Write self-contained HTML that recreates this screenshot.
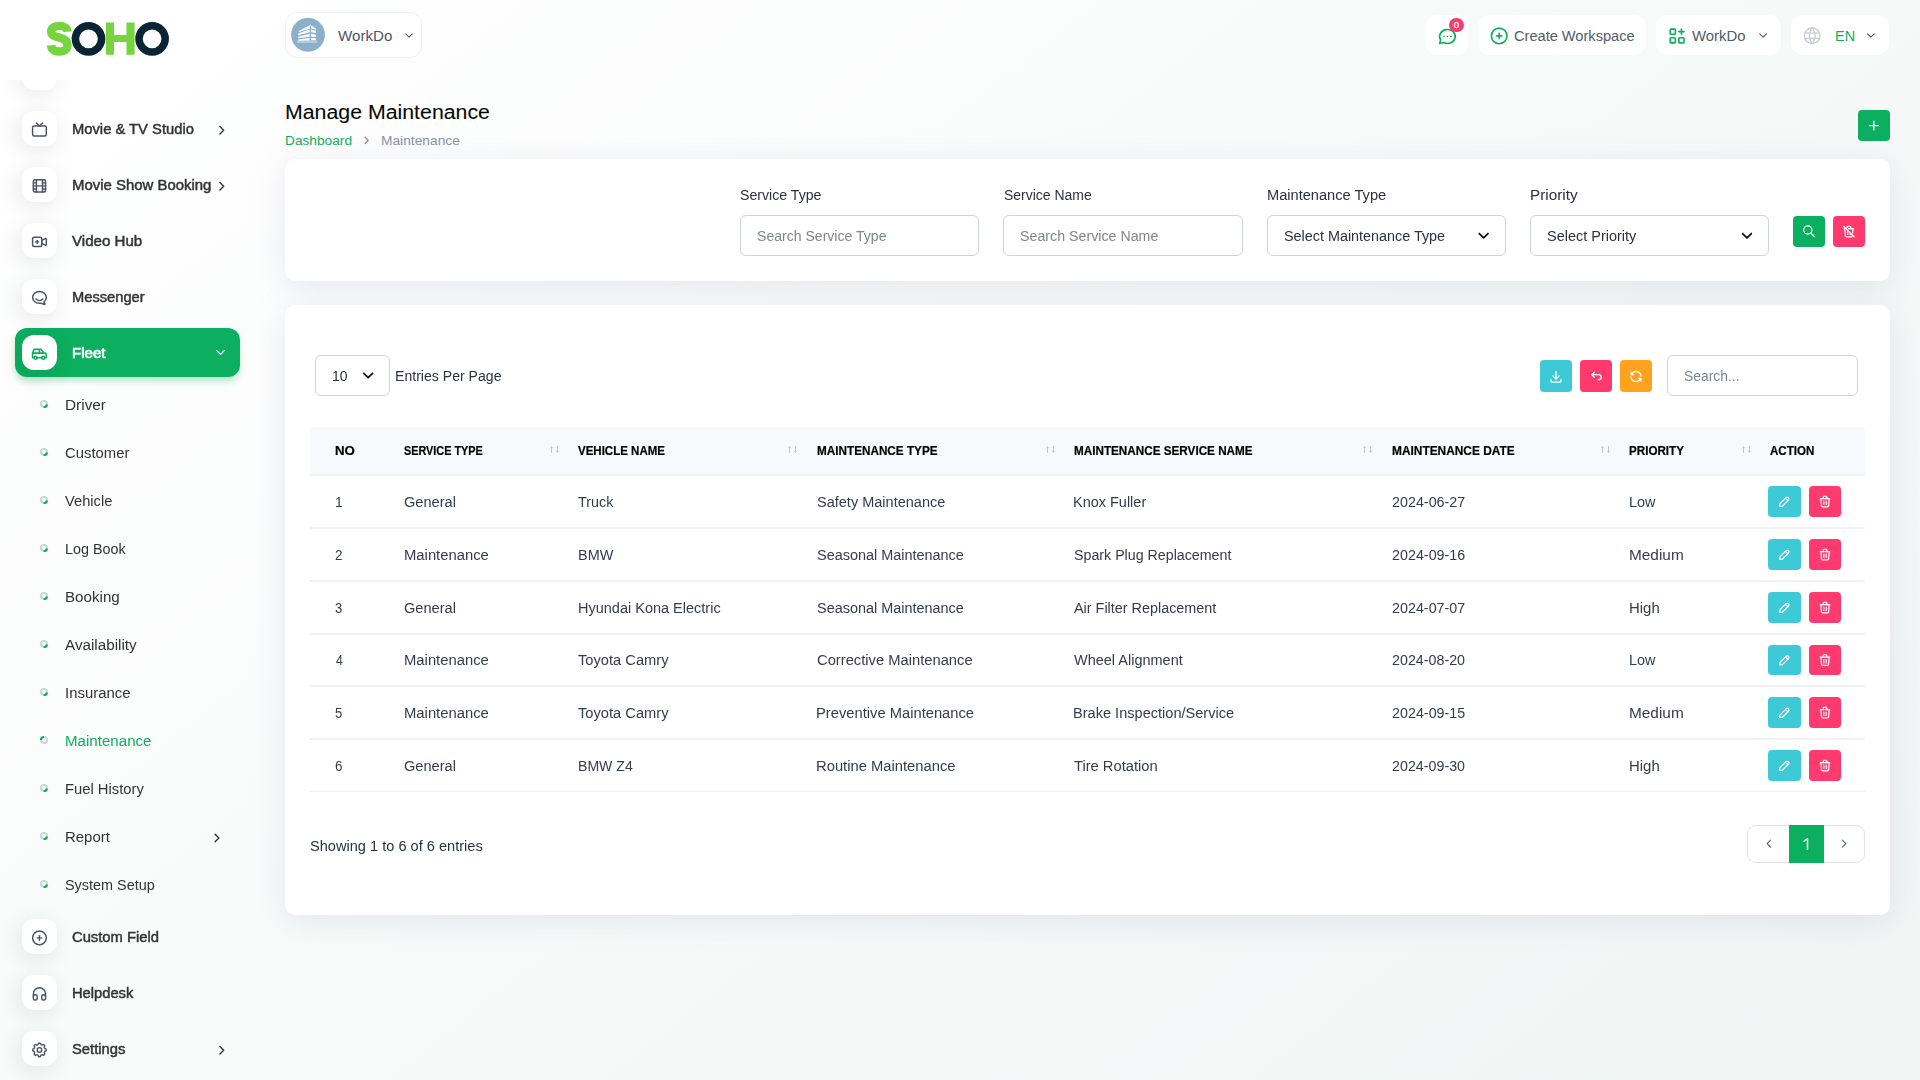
<!DOCTYPE html>
<html lang="en"><head><meta charset="utf-8"><title>Manage Maintenance</title>
<style>
html,body{margin:0;padding:0}
body{width:1920px;height:1080px;overflow:hidden;position:relative;font-family:"Liberation Sans",sans-serif;
background:linear-gradient(141.55deg,rgba(240,244,243,0) 3.46%,#f0f4f3 99.86%),#fff}
.b,.i,.t,.bul{position:absolute}
.i{overflow:visible}
.t{white-space:nowrap;line-height:20px;height:20px;transform-origin:0 50%;display:block}
.sb{position:absolute;left:0;top:0;width:282px;height:1080px;will-change:transform}
.sbscroll{position:absolute;left:0;top:80px;width:280px;height:40px;overflow:hidden}
.bul{width:8.4px;height:8.4px;box-sizing:border-box;border:1.9px solid #cdd1dc;border-radius:50%;border-right-color:#0CAF60;transform:rotate(50deg)}
.bul.act{transform:rotate(-130deg)}
</style></head>
<body>
<div class="sb">
<div class="sbscroll">
<div class="b" style="left:22.00px;top:-25.00px;width:35.00px;height:35.00px;background:#fff;border-radius:12px;box-shadow:-3px 4px 23px rgba(0,0,0,.1)"></div>
</div>
<div class="b" style="left:22.00px;top:111.30px;width:34.80px;height:34.60px;background:#fff;border-radius:12px;box-shadow:-3px 4px 23px rgba(0,0,0,.1)"></div>
<svg class="i" style="left:29px;top:119px;width:22px;height:22px;" viewBox="-1.705 -2.295 28.852 28.852" fill="none" stroke="#4a5364" stroke-width="1.9" stroke-linecap="round" stroke-linejoin="round"><rect x="3" y="7" width="18" height="13" rx="2"/><polyline points="16 3 12 7 8 3"/></svg>
<span class="t" style="left:71.70px;top:119.00px;font-size:14px;color:#333;height:20px;line-height:20px;-webkit-text-stroke:.45px #333;transform:scaleX(1.0536);">Movie &amp; TV Studio</span>
<svg class="i" style="left:213px;top:121px;width:18px;height:18px;" viewBox="-2.080 -2.720 28.800 28.800" fill="none" stroke="#3a3a3a" stroke-width="2.3" stroke-linecap="round" stroke-linejoin="round"><polyline points="9 6 15 12 9 18"/></svg>
<div class="b" style="left:22.00px;top:167.30px;width:34.80px;height:34.60px;background:#fff;border-radius:12px;box-shadow:-3px 4px 23px rgba(0,0,0,.1)"></div>
<svg class="i" style="left:29px;top:175px;width:22px;height:22px;" viewBox="-1.705 -2.295 28.852 28.852" fill="none" stroke="#4a5364" stroke-width="1.9" stroke-linecap="round" stroke-linejoin="round"><rect x="4" y="4" width="16" height="16" rx="2"/><line x1="8" y1="4" x2="8" y2="20"/><line x1="16" y1="4" x2="16" y2="20"/><line x1="4" y1="8" x2="8" y2="8"/><line x1="4" y1="16" x2="8" y2="16"/><line x1="4" y1="12" x2="20" y2="12"/><line x1="16" y1="8" x2="20" y2="8"/><line x1="16" y1="16" x2="20" y2="16"/></svg>
<span class="t" style="left:71.68px;top:175.00px;font-size:14px;color:#333;height:20px;line-height:20px;-webkit-text-stroke:.45px #333;transform:scaleX(1.0663);">Movie Show Booking</span>
<svg class="i" style="left:213px;top:177px;width:18px;height:18px;" viewBox="-2.080 -2.720 28.800 28.800" fill="none" stroke="#3a3a3a" stroke-width="2.3" stroke-linecap="round" stroke-linejoin="round"><polyline points="9 6 15 12 9 18"/></svg>
<div class="b" style="left:22.00px;top:223.30px;width:34.80px;height:34.60px;background:#fff;border-radius:12px;box-shadow:-3px 4px 23px rgba(0,0,0,.1)"></div>
<svg class="i" style="left:29px;top:231px;width:22px;height:22px;" viewBox="-1.705 -2.295 28.852 28.852" fill="none" stroke="#4a5364" stroke-width="1.9" stroke-linecap="round" stroke-linejoin="round"><path d="M15 10l4.553 -2.276a1 1 0 0 1 1.447 .894v6.764a1 1 0 0 1 -1.447 .894l-4.553 -2.276v-4z"/><rect x="3" y="6" width="12" height="12" rx="2"/><line x1="7" y1="12" x2="11" y2="12"/><line x1="9" y1="10" x2="9" y2="14"/></svg>
<span class="t" style="left:72.05px;top:231.00px;font-size:14px;color:#333;height:20px;line-height:20px;-webkit-text-stroke:.45px #333;transform:scaleX(1.0781);">Video Hub</span>
<div class="b" style="left:22.00px;top:279.30px;width:34.80px;height:34.60px;background:#fff;border-radius:12px;box-shadow:-3px 4px 23px rgba(0,0,0,.1)"></div>
<svg class="i" style="left:29px;top:287px;width:22px;height:22px;" viewBox="-1.705 -2.295 28.852 28.852" fill="none" stroke="#4a5364" stroke-width="1.9" stroke-linecap="round" stroke-linejoin="round"><path d="M17.802 17.292s.077 -.055 .2 -.149c1.843 -1.425 3 -3.49 3 -5.789c0 -4.286 -4.03 -7.764 -9 -7.764c-4.97 0 -9 3.478 -9 7.764c0 4.288 4.03 7.646 9 7.646c.424 0 1.12 -.028 2.088 -.084c1.262 .82 3.104 1.493 4.716 1.493c.499 0 .734 -.41 .414 -.828c-.486 -.596 -1.156 -1.551 -1.416 -2.29z"/><path d="M7.5 13.5c2.5 2.5 6.5 2.5 9 0"/></svg>
<span class="t" style="left:71.70px;top:287.00px;font-size:14px;color:#333;height:20px;line-height:20px;-webkit-text-stroke:.45px #333;transform:scaleX(1.0486);">Messenger</span>
<div class="b" style="left:15.00px;top:328.00px;width:225.00px;height:49.00px;background:#0CAF60;border-radius:12px;box-shadow:0 5px 7px -1px rgba(12,175,96,.3)"></div>
<div class="b" style="left:22.00px;top:335.30px;width:34.80px;height:34.60px;background:#fff;border-radius:12px;box-shadow:-3px 4px 23px rgba(0,0,0,.1)"></div>
<svg class="i" style="left:29px;top:343px;width:22px;height:22px;" viewBox="-1.705 -2.295 28.852 28.852" fill="none" stroke="#0CAF60" stroke-width="2.1" stroke-linecap="round" stroke-linejoin="round"><circle cx="7" cy="17" r="2"/><circle cx="17" cy="17" r="2"/><path d="M5 17h-2v-6l2 -5h9l4 5h1a2 2 0 0 1 2 2v4h-2m-4 0h-6m-6 -6h15m-6 0v-5"/></svg>
<span class="t" style="left:71.67px;top:343.00px;font-size:14px;color:#fff;height:20px;line-height:20px;-webkit-text-stroke:.65px #fff;transform:scaleX(1.0772);">Fleet</span>
<svg class="i" style="left:212px;top:344px;width:18px;height:18px;" viewBox="-1.600 -1.600 28.800 28.800" fill="none" stroke="#fff" stroke-width="2.2" stroke-linecap="round" stroke-linejoin="round"><polyline points="6 9 12 15 18 9"/></svg>
<svg class="i" style="left:39px;top:399.00px;width:10px;height:10px" viewBox="-5 -5 10 10" fill="none" stroke-width="2.1"><circle r="3" stroke="#ced3de"/><path d="M2.95 .5A3 3 0 0 1 -.3 2.98" stroke="#0CAF60"/></svg>
<span class="t" style="left:64.50px;top:395.00px;font-size:14px;color:#333;height:20px;line-height:20px;transform:scaleX(1.0976);">Driver</span>
<svg class="i" style="left:39px;top:447.00px;width:10px;height:10px" viewBox="-5 -5 10 10" fill="none" stroke-width="2.1"><circle r="3" stroke="#ced3de"/><path d="M2.95 .5A3 3 0 0 1 -.3 2.98" stroke="#0CAF60"/></svg>
<span class="t" style="left:65.00px;top:443.00px;font-size:14px;color:#333;height:20px;line-height:20px;transform:scaleX(1.0624);">Customer</span>
<svg class="i" style="left:39px;top:495.00px;width:10px;height:10px" viewBox="-5 -5 10 10" fill="none" stroke-width="2.1"><circle r="3" stroke="#ced3de"/><path d="M2.95 .5A3 3 0 0 1 -.3 2.98" stroke="#0CAF60"/></svg>
<span class="t" style="left:65.25px;top:491.00px;font-size:14px;color:#333;height:20px;line-height:20px;transform:scaleX(1.0476);">Vehicle</span>
<svg class="i" style="left:39px;top:543.00px;width:10px;height:10px" viewBox="-5 -5 10 10" fill="none" stroke-width="2.1"><circle r="3" stroke="#ced3de"/><path d="M2.95 .5A3 3 0 0 1 -.3 2.98" stroke="#0CAF60"/></svg>
<span class="t" style="left:64.58px;top:539.00px;font-size:14px;color:#333;height:20px;line-height:20px;transform:scaleX(1.0243);">Log Book</span>
<svg class="i" style="left:39px;top:591.00px;width:10px;height:10px" viewBox="-5 -5 10 10" fill="none" stroke-width="2.1"><circle r="3" stroke="#ced3de"/><path d="M2.95 .5A3 3 0 0 1 -.3 2.98" stroke="#0CAF60"/></svg>
<span class="t" style="left:64.52px;top:587.00px;font-size:14px;color:#333;height:20px;line-height:20px;transform:scaleX(1.0818);">Booking</span>
<svg class="i" style="left:39px;top:639.00px;width:10px;height:10px" viewBox="-5 -5 10 10" fill="none" stroke-width="2.1"><circle r="3" stroke="#ced3de"/><path d="M2.95 .5A3 3 0 0 1 -.3 2.98" stroke="#0CAF60"/></svg>
<span class="t" style="left:65.25px;top:635.00px;font-size:14px;color:#333;height:20px;line-height:20px;transform:scaleX(1.0883);">Availability</span>
<svg class="i" style="left:39px;top:687.00px;width:10px;height:10px" viewBox="-5 -5 10 10" fill="none" stroke-width="2.1"><circle r="3" stroke="#ced3de"/><path d="M2.95 .5A3 3 0 0 1 -.3 2.98" stroke="#0CAF60"/></svg>
<span class="t" style="left:64.54px;top:683.00px;font-size:14px;color:#333;height:20px;line-height:20px;transform:scaleX(1.0648);">Insurance</span>
<svg class="i" style="left:39px;top:735.00px;width:10px;height:10px" viewBox="-5 -5 10 10" fill="none" stroke-width="2.1"><circle r="3" stroke="#ced3de"/><path d="M-3 0A3 3 0 0 1 0 -3" stroke="#0CAF60"/></svg>
<span class="t" style="left:64.52px;top:731.00px;font-size:14px;color:#0CAF60;height:20px;line-height:20px;transform:scaleX(1.0789);">Maintenance</span>
<svg class="i" style="left:39px;top:783.00px;width:10px;height:10px" viewBox="-5 -5 10 10" fill="none" stroke-width="2.1"><circle r="3" stroke="#ced3de"/><path d="M2.95 .5A3 3 0 0 1 -.3 2.98" stroke="#0CAF60"/></svg>
<span class="t" style="left:64.55px;top:779.00px;font-size:14px;color:#333;height:20px;line-height:20px;transform:scaleX(1.0559);">Fuel History</span>
<svg class="i" style="left:39px;top:831.00px;width:10px;height:10px" viewBox="-5 -5 10 10" fill="none" stroke-width="2.1"><circle r="3" stroke="#ced3de"/><path d="M2.95 .5A3 3 0 0 1 -.3 2.98" stroke="#0CAF60"/></svg>
<span class="t" style="left:64.53px;top:827.00px;font-size:14px;color:#333;height:20px;line-height:20px;transform:scaleX(1.0665);">Report</span>
<svg class="i" style="left:39px;top:879.00px;width:10px;height:10px" viewBox="-5 -5 10 10" fill="none" stroke-width="2.1"><circle r="3" stroke="#ced3de"/><path d="M2.95 .5A3 3 0 0 1 -.3 2.98" stroke="#0CAF60"/></svg>
<span class="t" style="left:65.25px;top:875.00px;font-size:14px;color:#333;height:20px;line-height:20px;transform:scaleX(1.0296);">System Setup</span>
<svg class="i" style="left:208px;top:829px;width:18px;height:18px;" viewBox="-2.400 -2.400 28.800 28.800" fill="none" stroke="#333" stroke-width="2.2" stroke-linecap="round" stroke-linejoin="round"><polyline points="9 6 15 12 9 18"/></svg>
<div class="b" style="left:22.00px;top:919.30px;width:34.80px;height:34.60px;background:#fff;border-radius:12px;box-shadow:-3px 4px 23px rgba(0,0,0,.1)"></div>
<svg class="i" style="left:29px;top:927px;width:22px;height:22px;" viewBox="-1.705 -2.295 28.852 28.852" fill="none" stroke="#4a5364" stroke-width="1.9" stroke-linecap="round" stroke-linejoin="round"><circle cx="12" cy="12" r="9"/><line x1="9" y1="12" x2="15" y2="12"/><line x1="12" y1="9" x2="12" y2="15"/></svg>
<span class="t" style="left:72.16px;top:927.00px;font-size:14px;color:#333;height:20px;line-height:20px;-webkit-text-stroke:.45px #333;transform:scaleX(1.0540);">Custom Field</span>
<div class="b" style="left:22.00px;top:975.30px;width:34.80px;height:34.60px;background:#fff;border-radius:12px;box-shadow:-3px 4px 23px rgba(0,0,0,.1)"></div>
<svg class="i" style="left:29px;top:983px;width:22px;height:22px;" viewBox="-1.705 -2.295 28.852 28.852" fill="none" stroke="#4a5364" stroke-width="1.9" stroke-linecap="round" stroke-linejoin="round"><rect x="4" y="13" rx="2" width="5" height="7"/><rect x="15" y="13" rx="2" width="5" height="7"/><path d="M4 15v-3a8 8 0 0 1 16 0v3"/></svg>
<span class="t" style="left:71.70px;top:983.00px;font-size:14px;color:#333;height:20px;line-height:20px;-webkit-text-stroke:.45px #333;transform:scaleX(1.0506);">Helpdesk</span>
<div class="b" style="left:22.00px;top:1031.30px;width:34.80px;height:34.60px;background:#fff;border-radius:12px;box-shadow:-3px 4px 23px rgba(0,0,0,.1)"></div>
<svg class="i" style="left:29px;top:1039px;width:22px;height:22px;" viewBox="-1.705 -2.295 28.852 28.852" fill="none" stroke="#4a5364" stroke-width="1.9" stroke-linecap="round" stroke-linejoin="round"><path d="M10.325 4.317c.426 -1.756 2.924 -1.756 3.35 0a1.724 1.724 0 0 0 2.573 1.066c1.543 -.94 3.31 .826 2.37 2.37a1.724 1.724 0 0 0 1.065 2.572c1.756 .426 1.756 2.924 0 3.35a1.724 1.724 0 0 0 -1.066 2.573c.94 1.543 -.826 3.31 -2.37 2.37a1.724 1.724 0 0 0 -2.572 1.065c-.426 1.756 -2.924 1.756 -3.35 0a1.724 1.724 0 0 0 -2.573 -1.066c-1.543 .94 -3.31 -.826 -2.37 -2.37a1.724 1.724 0 0 0 -1.065 -2.572c-1.756 -.426 -1.756 -2.924 0 -3.35a1.724 1.724 0 0 0 1.066 -2.573c-.94 -1.543 .826 -3.31 2.37 -2.37c1 .608 2.296 .07 2.572 -1.065z"/><circle cx="12" cy="12" r="3"/></svg>
<span class="t" style="left:72.39px;top:1039.00px;font-size:14px;color:#333;height:20px;line-height:20px;-webkit-text-stroke:.45px #333;transform:scaleX(1.0541);">Settings</span>
<svg class="i" style="left:213px;top:1041px;width:18px;height:18px;" viewBox="-2.080 -2.720 28.800 28.800" fill="none" stroke="#3a3a3a" stroke-width="2.3" stroke-linecap="round" stroke-linejoin="round"><polyline points="9 6 15 12 9 18"/></svg>
<svg class="i" style="left:40px;top:14px;width:140px;height:50px" viewBox="40 14 140 50">
<path fill="none" stroke="#76d43f" stroke-width="8.4" d="M67.5 31.7C67.2 27.5 63.8 25.9 59.4 25.9C54.6 25.9 51.2 28 51.2 31.4C51.2 35.4 55 36.6 59.6 37.7C64.6 38.9 67.5 41 67.5 45.3C67.5 49.5 64 51.5 59.3 51.5C54.4 51.5 51.4 49.5 51.1 45.3"/>
<circle cx="88.5" cy="38.8" r="13.1" fill="none" stroke="#0a2435" stroke-width="7.5"/>
<path fill="#76d43f" d="M106 22.6h8v12.5h12.5V22.6h8.1v32.2h-8.1V42.1H114v12.7h-8z"/>
<circle cx="152.1" cy="38.8" r="13.1" fill="none" stroke="#0a2435" stroke-width="7.5"/>
</svg>
</div>
<div class="b" style="left:285.00px;top:12.00px;width:137.00px;height:46.00px;background:#fff;border:1px solid #f1f1f1;border-radius:12px;box-sizing:border-box"></div>
<svg class="i" style="left:284px;top:10px;width:60px;height:50px" viewBox="284 10 60 50"><circle cx="307.95" cy="34.9" r="17.1" fill="#c9ebda"/><circle cx="308.05" cy="34.8" r="16.75" fill="#8cb0cc"/><g fill="#fff">
<path d="M298.8 31.1L310.4 25l5.5 3.5v1.4l-4.8-1.4v-2.5l-1.2-.4v3.1l-10.9 3.4z"/>
<path d="M298.1 33.6l11.6-4.2v2.8l-11.6 3z"/><path d="M298.1 36.85l11.6-3.05v3.05l-11.6 1.35z"/><path d="M298.35 39.6l11.35-1.6v2.55l-11.35.25z"/>
<path d="M311.1 29.4l4.8 1.66v1.84l-4.8-.7z"/><path d="M311.1 33.8l4.8 1v2.05h-4.8z"/><path d="M311.1 38l4.8.2v2.1h-4.8z"/>
<rect x="297" y="40.6" width="20.3" height="2.4" opacity=".35"/></g></svg>
<span class="t" style="left:337.90px;top:26.00px;font-size:14px;color:#4a5568;height:20px;line-height:20px;transform:scaleX(1.0797);">WorkDo</span>
<svg class="i" style="left:401px;top:28px;width:16px;height:16px;" viewBox="-2.769 -1.846 29.538 29.538" fill="none" stroke="#525b69" stroke-width="2" stroke-linecap="round" stroke-linejoin="round"><polyline points="6 9 12 15 18 9"/></svg>
<div class="b" style="left:1426.00px;top:15.00px;width:42.00px;height:40.00px;background:#fff;border-radius:12px;"></div>
<svg class="i" style="left:1436px;top:25px;width:24px;height:24px;" viewBox="-1.154 -1.269 27.692 27.692" fill="none" stroke="#0CAF60" stroke-width="1.9" stroke-linecap="round" stroke-linejoin="round"><path d="M3 20l1.3 -3.9a9 8 0 1 1 3.4 2.9l-4.7 1"/><line x1="12" y1="12" x2="12" y2="12.01"/><line x1="8" y1="12" x2="8" y2="12.01"/><line x1="16" y1="12" x2="16" y2="12.01"/></svg>
<div class="b" style="left:1449.1px;top:17.7px;width:14.8px;height:14.8px;border-radius:50%;background:#ff3a6e"></div>
<span class="t" style="left:1453.85px;top:15.00px;font-size:9.5px;color:#fff;height:20px;line-height:20px;-webkit-text-stroke:.25px #fff;transform:scaleX(1.0000);">0</span>
<div class="b" style="left:1478.00px;top:15.00px;width:168.00px;height:40.00px;background:#fff;border-radius:12px;"></div>
<svg class="i" style="left:1487px;top:24px;width:24px;height:24px;" viewBox="-2.077 -1.731 27.692 27.692" fill="none" stroke="#0CAF60" stroke-width="1.9" stroke-linecap="round" stroke-linejoin="round"><circle cx="12" cy="12" r="9"/><line x1="9" y1="12" x2="15" y2="12"/><line x1="12" y1="9" x2="12" y2="15"/></svg>
<span class="t" style="left:1514.17px;top:26.00px;font-size:14px;color:#525b69;height:20px;line-height:20px;transform:scaleX(1.0423);">Create Workspace</span>
<div class="b" style="left:1656.00px;top:15.00px;width:125.00px;height:40.00px;background:#fff;border-radius:12px;"></div>
<svg class="i" style="left:1665px;top:24px;width:24px;height:24px;" viewBox="-1.962 -1.846 27.692 27.692" fill="none" stroke="#0CAF60" stroke-width="1.9" stroke-linecap="round" stroke-linejoin="round"><rect x="4" y="4" width="6" height="6" rx="1"/><rect x="4" y="14" width="6" height="6" rx="1"/><rect x="14" y="14" width="6" height="6" rx="1"/><path d="M14 7h6m-3 -3v6"/></svg>
<span class="t" style="left:1691.70px;top:26.00px;font-size:14px;color:#525b69;height:20px;line-height:20px;transform:scaleX(1.0616);">WorkDo</span>
<svg class="i" style="left:1755px;top:27px;width:17px;height:17px;" viewBox="-2.400 -3.111 30.222 30.222" fill="none" stroke="#525b69" stroke-width="2" stroke-linecap="round" stroke-linejoin="round"><polyline points="6 9 12 15 18 9"/></svg>
<div class="b" style="left:1791.00px;top:15.00px;width:98.00px;height:40.00px;background:#fff;border-radius:12px;"></div>
<svg class="i" style="left:1800px;top:24px;width:24px;height:24px;" viewBox="-2.077 -1.615 27.692 27.692" fill="none" stroke="#c9ccd2" stroke-width="1.5" stroke-linecap="round" stroke-linejoin="round"><circle cx="12" cy="12" r="9"/><line x1="3.6" y1="9" x2="20.4" y2="9"/><line x1="3.6" y1="15" x2="20.4" y2="15"/><path d="M11.5 3a17 17 0 0 0 0 18"/><path d="M12.5 3a17 17 0 0 1 0 18"/></svg>
<span class="t" style="left:1834.52px;top:26.00px;font-size:14px;color:#0CAF60;height:20px;line-height:20px;transform:scaleX(1.0341);">EN</span>
<svg class="i" style="left:1863px;top:27px;width:17px;height:17px;" viewBox="-2.044 -3.111 30.222 30.222" fill="none" stroke="#525b69" stroke-width="2" stroke-linecap="round" stroke-linejoin="round"><polyline points="6 9 12 15 18 9"/></svg>
<span class="t" style="left:284.84px;top:97.50px;font-size:20px;color:#060606;height:29px;line-height:29px;-webkit-text-stroke:.08px #060606;transform:scaleX(1.0654);">Manage Maintenance</span>
<span class="t" style="left:284.78px;top:130.50px;font-size:13.5px;color:#0CAF60;height:20px;line-height:20px;transform:scaleX(1.0151);">Dashboard</span>
<svg class="i" style="left:359px;top:133px;width:16px;height:16px;" viewBox="-2.784 -2.208 30.720 30.720" fill="none" stroke="#858c97" stroke-width="2.4" stroke-linecap="round" stroke-linejoin="round"><polyline points="9 6 15 12 9 18"/></svg>
<span class="t" style="left:381.47px;top:130.50px;font-size:13.5px;color:#8a929e;height:20px;line-height:20px;transform:scaleX(1.0198);">Maintenance</span>
<div class="b" style="left:1858.00px;top:110.00px;width:32.00px;height:31.00px;background:#0CAF60;border-radius:4px"></div>
<svg class="i" style="left:1865px;top:117px;width:18px;height:18px;" viewBox="-2.240 -1.760 28.800 28.800" fill="none" stroke="#fff" stroke-width="2" stroke-linecap="round" stroke-linejoin="round"><line x1="12" y1="5" x2="12" y2="19"/><line x1="5" y1="12" x2="19" y2="12"/></svg>
<div class="b" style="left:285.00px;top:159.00px;width:1605.00px;height:122.00px;background:#fff;border-radius:10px;box-shadow:0 6px 30px rgba(182,186,203,.3)"></div>
<span class="t" style="left:740.26px;top:185.00px;font-size:14px;color:#293240;height:20px;line-height:20px;transform:scaleX(1.0098);">Service Type</span>
<span class="t" style="left:1004.26px;top:185.00px;font-size:14px;color:#293240;height:20px;line-height:20px;transform:scaleX(0.9976);">Service Name</span>
<span class="t" style="left:1266.56px;top:185.00px;font-size:14px;color:#293240;height:20px;line-height:20px;transform:scaleX(1.0439);">Maintenance Type</span>
<span class="t" style="left:1530.15px;top:185.00px;font-size:14px;color:#293240;height:20px;line-height:20px;transform:scaleX(1.0950);">Priority</span>
<div class="b" style="left:740.00px;top:215.00px;width:239.33px;height:41.00px;background:#fff;border:1px solid #ced4da;border-radius:6px;box-sizing:border-box"></div>
<span class="t" style="left:757.26px;top:226.00px;font-size:14px;color:#7d858f;height:20px;line-height:20px;transform:scaleX(1.0042);">Search Service Type</span>
<div class="b" style="left:1003.33px;top:215.00px;width:239.33px;height:41.00px;background:#fff;border:1px solid #ced4da;border-radius:6px;box-sizing:border-box"></div>
<span class="t" style="left:1020.24px;top:226.00px;font-size:14px;color:#7d858f;height:20px;line-height:20px;transform:scaleX(1.0158);">Search Service Name</span>
<div class="b" style="left:1266.67px;top:215.00px;width:239.33px;height:41.00px;background:#fff;border:1px solid #ced4da;border-radius:6px;box-sizing:border-box"></div>
<span class="t" style="left:1283.57px;top:226.00px;font-size:14px;color:#293240;height:20px;line-height:20px;transform:scaleX(1.0262);">Select Maintenance Type</span>
<svg class="i" style="left:1473px;top:225px;width:21px;height:21px;" viewBox="-2.565 -2.674 28.800 28.800" fill="none" stroke="#111" stroke-width="2.4" stroke-linecap="round" stroke-linejoin="round"><polyline points="6 9 12 15 18 9"/></svg>
<div class="b" style="left:1530.00px;top:215.00px;width:239.33px;height:41.00px;background:#fff;border:1px solid #ced4da;border-radius:6px;box-sizing:border-box"></div>
<span class="t" style="left:1546.90px;top:226.00px;font-size:14px;color:#293240;height:20px;line-height:20px;transform:scaleX(1.0335);">Select Priority</span>
<svg class="i" style="left:1737px;top:225px;width:21px;height:21px;" viewBox="-1.646 -2.674 28.800 28.800" fill="none" stroke="#111" stroke-width="2.4" stroke-linecap="round" stroke-linejoin="round"><polyline points="6 9 12 15 18 9"/></svg>
<div class="b" style="left:1793.00px;top:216.00px;width:32.00px;height:31.00px;background:#0CAF60;border-radius:4px"></div>
<svg class="i" style="left:1800px;top:223px;width:18px;height:18px;" viewBox="-3.211 -1.859 30.423 30.423" fill="none" stroke="#fff" stroke-width="2" stroke-linecap="round" stroke-linejoin="round"><circle cx="10" cy="10" r="7"/><line x1="21" y1="21" x2="15" y2="15"/></svg>
<div class="b" style="left:1833.00px;top:216.00px;width:32.00px;height:31.00px;background:#ff3a6e;border-radius:4px"></div>
<svg class="i" style="left:1840px;top:223px;width:18px;height:18px;" viewBox="-3.042 -2.535 30.423 30.423" fill="none" stroke="#fff" stroke-width="2" stroke-linecap="round" stroke-linejoin="round"><line x1="3" y1="3" x2="21" y2="21"/><path d="M4 7h3m4 0h9"/><line x1="10" y1="11" x2="10" y2="17"/><line x1="14" y1="14" x2="14" y2="17"/><path d="M5 7l1 12a2 2 0 0 0 2 2h8a2 2 0 0 0 2 -2l.077 -.923"/><line x1="18.384" y1="14.373" x2="19" y2="7"/><path d="M9 5v-1a1 1 0 0 1 1 -1h4a1 1 0 0 1 1 1v3"/></svg>
<div class="b" style="left:285.00px;top:305.00px;width:1605.00px;height:610.00px;background:#fff;border-radius:10px;box-shadow:0 6px 30px rgba(182,186,203,.3)"></div>
<div class="b" style="left:315.00px;top:355.00px;width:75.00px;height:41.00px;background:#fff;border:1px solid #ced4da;border-radius:6px;box-sizing:border-box"></div>
<span class="t" style="left:331.98px;top:366.00px;font-size:14px;color:#293240;height:20px;line-height:20px;transform:scaleX(0.9966);">10</span>
<svg class="i" style="left:358px;top:365px;width:21px;height:21px;" viewBox="-1.920 -2.400 28.800 28.800" fill="none" stroke="#111" stroke-width="2.4" stroke-linecap="round" stroke-linejoin="round"><polyline points="6 9 12 15 18 9"/></svg>
<span class="t" style="left:394.75px;top:366.00px;font-size:14px;color:#293240;height:20px;line-height:20px;transform:scaleX(1.0060);">Entries Per Page</span>
<div class="b" style="left:1540.00px;top:360.00px;width:32.00px;height:32.00px;background:#3ec9d6;border-radius:4px"></div>
<svg class="i" style="left:1547px;top:368px;width:18px;height:18px;" viewBox="-2.400 -1.600 28.800 28.800" fill="none" stroke="#fff" stroke-width="2" stroke-linecap="round" stroke-linejoin="round"><path d="M4 17v2a2 2 0 0 0 2 2h12a2 2 0 0 0 2 -2v-2"/><polyline points="7 11 12 16 17 11"/><line x1="12" y1="4" x2="12" y2="16"/></svg>
<div class="b" style="left:1580.00px;top:360.00px;width:32.00px;height:32.00px;background:#ff3a6e;border-radius:4px"></div>
<svg class="i" style="left:1587px;top:368px;width:18px;height:18px;" viewBox="-2.720 -1.760 28.800 28.800" fill="none" stroke="#fff" stroke-width="2" stroke-linecap="round" stroke-linejoin="round"><path d="M9 13l-4 -4l4 -4m-4 4h11a4 4 0 0 1 0 8h-1"/></svg>
<div class="b" style="left:1620.00px;top:360.00px;width:32.00px;height:32.00px;background:#ffa21d;border-radius:4px"></div>
<svg class="i" style="left:1627px;top:368px;width:18px;height:18px;" viewBox="-2.400 -1.600 28.800 28.800" fill="none" stroke="#fff" stroke-width="2" stroke-linecap="round" stroke-linejoin="round"><path d="M20 11a8.1 8.1 0 0 0 -15.5 -2m-.5 -4v4h4"/><path d="M4 13a8.1 8.1 0 0 0 15.5 2m.5 4v-4h-4"/></svg>
<div class="b" style="left:1667.00px;top:355.00px;width:191.00px;height:41.00px;background:#fff;border:1px solid #ced4da;border-radius:6px;box-sizing:border-box"></div>
<span class="t" style="left:1684.22px;top:366.00px;font-size:14px;color:#7d858f;height:20px;line-height:20px;transform:scaleX(0.9903);">Search...</span>
<div class="b" style="left:310.00px;top:427.00px;width:1555.00px;height:47.60px;background:#f8f9fd"></div>
<div class="b" style="left:310.00px;top:474.00px;width:1555.00px;height:2.00px;background:#f1f2f6"></div>
<span class="t" style="left:334.91px;top:440.50px;font-size:12px;color:#000;height:20px;line-height:20px;font-weight:bold;-webkit-text-stroke:.2px #000;transform:scaleX(1.1067);">NO</span>
<span class="t" style="left:404.03px;top:440.50px;font-size:12px;color:#000;height:20px;line-height:20px;font-weight:bold;-webkit-text-stroke:.2px #000;transform:scaleX(0.9029);">SERVICE TYPE</span>
<svg class="i" style="left:548px;top:445px;width:13px;height:9px" viewBox="0 0 13 9"><path d="M3.5 1.6V8M9.5 1V7.4" fill="none" stroke="#c4c6cb" stroke-width="1"/><path d="M1.9 3.1L3.5 .9 5.1 3.1zM7.9 5.9L9.5 8.1 11.1 5.9z" fill="#c4c6cb"/></svg>
<span class="t" style="left:578.30px;top:440.50px;font-size:12px;color:#000;height:20px;line-height:20px;font-weight:bold;-webkit-text-stroke:.2px #000;transform:scaleX(0.9593);">VEHICLE NAME</span>
<svg class="i" style="left:786px;top:445px;width:13px;height:9px" viewBox="0 0 13 9"><path d="M3.5 1.6V8M9.5 1V7.4" fill="none" stroke="#c4c6cb" stroke-width="1"/><path d="M1.9 3.1L3.5 .9 5.1 3.1zM7.9 5.9L9.5 8.1 11.1 5.9z" fill="#c4c6cb"/></svg>
<span class="t" style="left:817.12px;top:440.50px;font-size:12px;color:#000;height:20px;line-height:20px;font-weight:bold;-webkit-text-stroke:.2px #000;transform:scaleX(0.9772);">MAINTENANCE TYPE</span>
<svg class="i" style="left:1044px;top:445px;width:13px;height:9px" viewBox="0 0 13 9"><path d="M3.5 1.6V8M9.5 1V7.4" fill="none" stroke="#c4c6cb" stroke-width="1"/><path d="M1.9 3.1L3.5 .9 5.1 3.1zM7.9 5.9L9.5 8.1 11.1 5.9z" fill="#c4c6cb"/></svg>
<span class="t" style="left:1074.07px;top:440.50px;font-size:12px;color:#000;height:20px;line-height:20px;font-weight:bold;-webkit-text-stroke:.2px #000;transform:scaleX(0.9754);">MAINTENANCE SERVICE NAME</span>
<svg class="i" style="left:1361px;top:445px;width:13px;height:9px" viewBox="0 0 13 9"><path d="M3.5 1.6V8M9.5 1V7.4" fill="none" stroke="#c4c6cb" stroke-width="1"/><path d="M1.9 3.1L3.5 .9 5.1 3.1zM7.9 5.9L9.5 8.1 11.1 5.9z" fill="#c4c6cb"/></svg>
<span class="t" style="left:1392.06px;top:440.50px;font-size:12px;color:#000;height:20px;line-height:20px;font-weight:bold;-webkit-text-stroke:.2px #000;transform:scaleX(0.9909);">MAINTENANCE DATE</span>
<svg class="i" style="left:1599px;top:445px;width:13px;height:9px" viewBox="0 0 13 9"><path d="M3.5 1.6V8M9.5 1V7.4" fill="none" stroke="#c4c6cb" stroke-width="1"/><path d="M1.9 3.1L3.5 .9 5.1 3.1zM7.9 5.9L9.5 8.1 11.1 5.9z" fill="#c4c6cb"/></svg>
<span class="t" style="left:1629.32px;top:440.50px;font-size:12px;color:#000;height:20px;line-height:20px;font-weight:bold;-webkit-text-stroke:.2px #000;transform:scaleX(0.9692);">PRIORITY</span>
<svg class="i" style="left:1740px;top:445px;width:13px;height:9px" viewBox="0 0 13 9"><path d="M3.5 1.6V8M9.5 1V7.4" fill="none" stroke="#c4c6cb" stroke-width="1"/><path d="M1.9 3.1L3.5 .9 5.1 3.1zM7.9 5.9L9.5 8.1 11.1 5.9z" fill="#c4c6cb"/></svg>
<span class="t" style="left:1770.16px;top:440.50px;font-size:12px;color:#000;height:20px;line-height:20px;font-weight:bold;-webkit-text-stroke:.2px #000;transform:scaleX(0.9649);">ACTION</span>
<div class="b" style="left:310.00px;top:527.00px;width:1555.00px;height:2.00px;background:#f1f1f3"></div>
<span class="t" style="left:334.98px;top:491.70px;font-size:14px;color:#333b4d;height:20px;line-height:20px;transform:scaleX(0.9931);">1</span>
<span class="t" style="left:403.87px;top:491.70px;font-size:14px;color:#333b4d;height:20px;line-height:20px;transform:scaleX(1.0430);">General</span>
<span class="t" style="left:577.98px;top:491.70px;font-size:14px;color:#333b4d;height:20px;line-height:20px;transform:scaleX(1.0238);">Truck</span>
<span class="t" style="left:817.00px;top:491.70px;font-size:14px;color:#333b4d;height:20px;line-height:20px;transform:scaleX(1.0372);">Safety Maintenance</span>
<span class="t" style="left:1073.32px;top:491.70px;font-size:14px;color:#333b4d;height:20px;line-height:20px;transform:scaleX(1.0338);">Knox Fuller</span>
<span class="t" style="left:1391.98px;top:491.70px;font-size:14px;color:#333b4d;height:20px;line-height:20px;transform:scaleX(1.0229);">2024-06-27</span>
<span class="t" style="left:1628.93px;top:491.70px;font-size:14px;color:#333b4d;height:20px;line-height:20px;transform:scaleX(1.0259);">Low</span>
<div class="b" style="left:1768.00px;top:486.20px;width:33.00px;height:30.80px;background:#3ec9d6;border-radius:4px"></div>
<svg class="i" style="left:1776px;top:493px;width:18px;height:18px;" viewBox="-2.434 -2.434 30.210 30.210" fill="none" stroke="#fff" stroke-width="2" stroke-linecap="round" stroke-linejoin="round"><path d="M4 20h4l10.5 -10.5a1.5 1.5 0 0 0 -4 -4l-10.5 10.5v4"/><line x1="13.5" y1="6.5" x2="17.5" y2="10.5"/></svg>
<div class="b" style="left:1809.00px;top:486.20px;width:32.00px;height:30.80px;background:#ff3a6e;border-radius:4px"></div>
<svg class="i" style="left:1816px;top:493px;width:18px;height:18px;" viewBox="-3.296 -2.535 30.423 30.423" fill="none" stroke="#fff" stroke-width="2" stroke-linecap="round" stroke-linejoin="round"><line x1="4" y1="7" x2="20" y2="7"/><line x1="10" y1="11" x2="10" y2="17"/><line x1="14" y1="11" x2="14" y2="17"/><path d="M5 7l1 12a2 2 0 0 0 2 2h8a2 2 0 0 0 2 -2l1 -12"/><path d="M9 7v-3a1 1 0 0 1 1 -1h4a1 1 0 0 1 1 1v3"/></svg>
<div class="b" style="left:310.00px;top:580.00px;width:1555.00px;height:2.00px;background:#f1f1f3"></div>
<span class="t" style="left:335.22px;top:544.70px;font-size:14px;color:#333b4d;height:20px;line-height:20px;transform:scaleX(0.9600);">2</span>
<span class="t" style="left:404.19px;top:544.70px;font-size:14px;color:#333b4d;height:20px;line-height:20px;transform:scaleX(1.0585);">Maintenance</span>
<span class="t" style="left:577.52px;top:544.70px;font-size:14px;color:#333b4d;height:20px;line-height:20px;transform:scaleX(1.0316);">BMW</span>
<span class="t" style="left:817.00px;top:544.70px;font-size:14px;color:#333b4d;height:20px;line-height:20px;transform:scaleX(1.0309);">Seasonal Maintenance</span>
<span class="t" style="left:1074.01px;top:544.70px;font-size:14px;color:#333b4d;height:20px;line-height:20px;transform:scaleX(1.0164);">Spark Plug Replacement</span>
<span class="t" style="left:1391.98px;top:544.70px;font-size:14px;color:#333b4d;height:20px;line-height:20px;transform:scaleX(1.0229);">2024-09-16</span>
<span class="t" style="left:1628.85px;top:544.70px;font-size:14px;color:#333b4d;height:20px;line-height:20px;transform:scaleX(1.0985);">Medium</span>
<div class="b" style="left:1768.00px;top:539.20px;width:33.00px;height:30.80px;background:#3ec9d6;border-radius:4px"></div>
<svg class="i" style="left:1776px;top:546px;width:18px;height:18px;" viewBox="-2.434 -2.434 30.210 30.210" fill="none" stroke="#fff" stroke-width="2" stroke-linecap="round" stroke-linejoin="round"><path d="M4 20h4l10.5 -10.5a1.5 1.5 0 0 0 -4 -4l-10.5 10.5v4"/><line x1="13.5" y1="6.5" x2="17.5" y2="10.5"/></svg>
<div class="b" style="left:1809.00px;top:539.20px;width:32.00px;height:30.80px;background:#ff3a6e;border-radius:4px"></div>
<svg class="i" style="left:1816px;top:546px;width:18px;height:18px;" viewBox="-3.296 -2.535 30.423 30.423" fill="none" stroke="#fff" stroke-width="2" stroke-linecap="round" stroke-linejoin="round"><line x1="4" y1="7" x2="20" y2="7"/><line x1="10" y1="11" x2="10" y2="17"/><line x1="14" y1="11" x2="14" y2="17"/><path d="M5 7l1 12a2 2 0 0 0 2 2h8a2 2 0 0 0 2 -2l1 -12"/><path d="M9 7v-3a1 1 0 0 1 1 -1h4a1 1 0 0 1 1 1v3"/></svg>
<div class="b" style="left:310.00px;top:633.00px;width:1555.00px;height:2.00px;background:#f1f1f3"></div>
<span class="t" style="left:335.44px;top:597.70px;font-size:14px;color:#333b4d;height:20px;line-height:20px;transform:scaleX(0.9290);">3</span>
<span class="t" style="left:403.87px;top:597.70px;font-size:14px;color:#333b4d;height:20px;line-height:20px;transform:scaleX(1.0430);">General</span>
<span class="t" style="left:577.52px;top:597.70px;font-size:14px;color:#333b4d;height:20px;line-height:20px;transform:scaleX(1.0357);">Hyundai Kona Electric</span>
<span class="t" style="left:817.00px;top:597.70px;font-size:14px;color:#333b4d;height:20px;line-height:20px;transform:scaleX(1.0309);">Seasonal Maintenance</span>
<span class="t" style="left:1074.00px;top:597.70px;font-size:14px;color:#333b4d;height:20px;line-height:20px;transform:scaleX(1.0279);">Air Filter Replacement</span>
<span class="t" style="left:1391.98px;top:597.70px;font-size:14px;color:#333b4d;height:20px;line-height:20px;transform:scaleX(1.0229);">2024-07-07</span>
<span class="t" style="left:1628.88px;top:597.70px;font-size:14px;color:#333b4d;height:20px;line-height:20px;transform:scaleX(1.0664);">High</span>
<div class="b" style="left:1768.00px;top:592.20px;width:33.00px;height:30.80px;background:#3ec9d6;border-radius:4px"></div>
<svg class="i" style="left:1776px;top:599px;width:18px;height:18px;" viewBox="-2.434 -2.434 30.210 30.210" fill="none" stroke="#fff" stroke-width="2" stroke-linecap="round" stroke-linejoin="round"><path d="M4 20h4l10.5 -10.5a1.5 1.5 0 0 0 -4 -4l-10.5 10.5v4"/><line x1="13.5" y1="6.5" x2="17.5" y2="10.5"/></svg>
<div class="b" style="left:1809.00px;top:592.20px;width:32.00px;height:30.80px;background:#ff3a6e;border-radius:4px"></div>
<svg class="i" style="left:1816px;top:599px;width:18px;height:18px;" viewBox="-3.296 -2.535 30.423 30.423" fill="none" stroke="#fff" stroke-width="2" stroke-linecap="round" stroke-linejoin="round"><line x1="4" y1="7" x2="20" y2="7"/><line x1="10" y1="11" x2="10" y2="17"/><line x1="14" y1="11" x2="14" y2="17"/><path d="M5 7l1 12a2 2 0 0 0 2 2h8a2 2 0 0 0 2 -2l1 -12"/><path d="M9 7v-3a1 1 0 0 1 1 -1h4a1 1 0 0 1 1 1v3"/></svg>
<div class="b" style="left:310.00px;top:685.00px;width:1555.00px;height:2.00px;background:#f1f1f3"></div>
<span class="t" style="left:335.66px;top:650.20px;font-size:14px;color:#333b4d;height:20px;line-height:20px;transform:scaleX(0.8727);">4</span>
<span class="t" style="left:404.19px;top:650.20px;font-size:14px;color:#333b4d;height:20px;line-height:20px;transform:scaleX(1.0585);">Maintenance</span>
<span class="t" style="left:577.97px;top:650.20px;font-size:14px;color:#333b4d;height:20px;line-height:20px;transform:scaleX(1.0483);">Toyota Camry</span>
<span class="t" style="left:816.76px;top:650.20px;font-size:14px;color:#333b4d;height:20px;line-height:20px;transform:scaleX(1.0524);">Corrective Maintenance</span>
<span class="t" style="left:1074.00px;top:650.20px;font-size:14px;color:#333b4d;height:20px;line-height:20px;transform:scaleX(1.0352);">Wheel Alignment</span>
<span class="t" style="left:1391.98px;top:650.20px;font-size:14px;color:#333b4d;height:20px;line-height:20px;transform:scaleX(1.0197);">2024-08-20</span>
<span class="t" style="left:1628.93px;top:650.20px;font-size:14px;color:#333b4d;height:20px;line-height:20px;transform:scaleX(1.0259);">Low</span>
<div class="b" style="left:1768.00px;top:644.70px;width:33.00px;height:30.80px;background:#3ec9d6;border-radius:4px"></div>
<svg class="i" style="left:1776px;top:651px;width:18px;height:18px;" viewBox="-2.434 -3.273 30.210 30.210" fill="none" stroke="#fff" stroke-width="2" stroke-linecap="round" stroke-linejoin="round"><path d="M4 20h4l10.5 -10.5a1.5 1.5 0 0 0 -4 -4l-10.5 10.5v4"/><line x1="13.5" y1="6.5" x2="17.5" y2="10.5"/></svg>
<div class="b" style="left:1809.00px;top:644.70px;width:32.00px;height:30.80px;background:#ff3a6e;border-radius:4px"></div>
<svg class="i" style="left:1816px;top:652px;width:18px;height:18px;" viewBox="-3.296 -1.690 30.423 30.423" fill="none" stroke="#fff" stroke-width="2" stroke-linecap="round" stroke-linejoin="round"><line x1="4" y1="7" x2="20" y2="7"/><line x1="10" y1="11" x2="10" y2="17"/><line x1="14" y1="11" x2="14" y2="17"/><path d="M5 7l1 12a2 2 0 0 0 2 2h8a2 2 0 0 0 2 -2l1 -12"/><path d="M9 7v-3a1 1 0 0 1 1 -1h4a1 1 0 0 1 1 1v3"/></svg>
<div class="b" style="left:310.00px;top:738.00px;width:1555.00px;height:2.00px;background:#f1f1f3"></div>
<span class="t" style="left:335.44px;top:702.80px;font-size:14px;color:#333b4d;height:20px;line-height:20px;transform:scaleX(0.9290);">5</span>
<span class="t" style="left:404.19px;top:702.80px;font-size:14px;color:#333b4d;height:20px;line-height:20px;transform:scaleX(1.0585);">Maintenance</span>
<span class="t" style="left:577.97px;top:702.80px;font-size:14px;color:#333b4d;height:20px;line-height:20px;transform:scaleX(1.0483);">Toyota Camry</span>
<span class="t" style="left:816.30px;top:702.80px;font-size:14px;color:#333b4d;height:20px;line-height:20px;transform:scaleX(1.0523);">Preventive Maintenance</span>
<span class="t" style="left:1073.31px;top:702.80px;font-size:14px;color:#333b4d;height:20px;line-height:20px;transform:scaleX(1.0405);">Brake Inspection/Service</span>
<span class="t" style="left:1391.98px;top:702.80px;font-size:14px;color:#333b4d;height:20px;line-height:20px;transform:scaleX(1.0229);">2024-09-15</span>
<span class="t" style="left:1628.85px;top:702.80px;font-size:14px;color:#333b4d;height:20px;line-height:20px;transform:scaleX(1.0985);">Medium</span>
<div class="b" style="left:1768.00px;top:697.30px;width:33.00px;height:30.80px;background:#3ec9d6;border-radius:4px"></div>
<svg class="i" style="left:1776px;top:704px;width:18px;height:18px;" viewBox="-2.434 -2.601 30.210 30.210" fill="none" stroke="#fff" stroke-width="2" stroke-linecap="round" stroke-linejoin="round"><path d="M4 20h4l10.5 -10.5a1.5 1.5 0 0 0 -4 -4l-10.5 10.5v4"/><line x1="13.5" y1="6.5" x2="17.5" y2="10.5"/></svg>
<div class="b" style="left:1809.00px;top:697.30px;width:32.00px;height:30.80px;background:#ff3a6e;border-radius:4px"></div>
<svg class="i" style="left:1816px;top:704px;width:18px;height:18px;" viewBox="-3.296 -2.704 30.423 30.423" fill="none" stroke="#fff" stroke-width="2" stroke-linecap="round" stroke-linejoin="round"><line x1="4" y1="7" x2="20" y2="7"/><line x1="10" y1="11" x2="10" y2="17"/><line x1="14" y1="11" x2="14" y2="17"/><path d="M5 7l1 12a2 2 0 0 0 2 2h8a2 2 0 0 0 2 -2l1 -12"/><path d="M9 7v-3a1 1 0 0 1 1 -1h4a1 1 0 0 1 1 1v3"/></svg>
<div class="b" style="left:310.00px;top:791.00px;width:1555.00px;height:1.00px;background:#eceef2"></div>
<span class="t" style="left:335.22px;top:755.70px;font-size:14px;color:#333b4d;height:20px;line-height:20px;transform:scaleX(0.9600);">6</span>
<span class="t" style="left:403.87px;top:755.70px;font-size:14px;color:#333b4d;height:20px;line-height:20px;transform:scaleX(1.0430);">General</span>
<span class="t" style="left:577.55px;top:755.70px;font-size:14px;color:#333b4d;height:20px;line-height:20px;transform:scaleX(1.0057);">BMW Z4</span>
<span class="t" style="left:816.30px;top:755.70px;font-size:14px;color:#333b4d;height:20px;line-height:20px;transform:scaleX(1.0547);">Routine Maintenance</span>
<span class="t" style="left:1073.77px;top:755.70px;font-size:14px;color:#333b4d;height:20px;line-height:20px;transform:scaleX(1.0506);">Tire Rotation</span>
<span class="t" style="left:1391.98px;top:755.70px;font-size:14px;color:#333b4d;height:20px;line-height:20px;transform:scaleX(1.0197);">2024-09-30</span>
<span class="t" style="left:1628.88px;top:755.70px;font-size:14px;color:#333b4d;height:20px;line-height:20px;transform:scaleX(1.0664);">High</span>
<div class="b" style="left:1768.00px;top:750.20px;width:33.00px;height:30.80px;background:#3ec9d6;border-radius:4px"></div>
<svg class="i" style="left:1776px;top:757px;width:18px;height:18px;" viewBox="-2.434 -2.434 30.210 30.210" fill="none" stroke="#fff" stroke-width="2" stroke-linecap="round" stroke-linejoin="round"><path d="M4 20h4l10.5 -10.5a1.5 1.5 0 0 0 -4 -4l-10.5 10.5v4"/><line x1="13.5" y1="6.5" x2="17.5" y2="10.5"/></svg>
<div class="b" style="left:1809.00px;top:750.20px;width:32.00px;height:30.80px;background:#ff3a6e;border-radius:4px"></div>
<svg class="i" style="left:1816px;top:757px;width:18px;height:18px;" viewBox="-3.296 -2.535 30.423 30.423" fill="none" stroke="#fff" stroke-width="2" stroke-linecap="round" stroke-linejoin="round"><line x1="4" y1="7" x2="20" y2="7"/><line x1="10" y1="11" x2="10" y2="17"/><line x1="14" y1="11" x2="14" y2="17"/><path d="M5 7l1 12a2 2 0 0 0 2 2h8a2 2 0 0 0 2 -2l1 -12"/><path d="M9 7v-3a1 1 0 0 1 1 -1h4a1 1 0 0 1 1 1v3"/></svg>
<span class="t" style="left:309.89px;top:836.00px;font-size:14px;color:#293240;height:20px;line-height:20px;transform:scaleX(1.0419);">Showing 1 to 6 of 6 entries</span>
<div class="b" style="left:1747.20px;top:825.00px;width:117.60px;height:38.00px;background:#fff;border:1px solid #dde1e8;border-radius:9px;box-sizing:border-box"></div>
<div class="b" style="left:1789.00px;top:825.00px;width:35.00px;height:38.00px;background:#0CAF60"></div>
<svg class="i" style="left:1760px;top:835px;width:17px;height:17px;" viewBox="-3.086 -2.743 29.143 29.143" fill="none" stroke="#58637a" stroke-width="1.9" stroke-linecap="round" stroke-linejoin="round"><polyline points="15 6 9 12 15 18"/></svg>
<svg class="i" style="left:1836px;top:835px;width:17px;height:17px;" viewBox="-1.886 -2.743 29.143 29.143" fill="none" stroke="#58637a" stroke-width="1.9" stroke-linecap="round" stroke-linejoin="round"><polyline points="9 6 15 12 9 18"/></svg>
<svg class="i" style="left:1798px;top:834px;width:16px;height:20px" viewBox="1798 834 16 20"><path d="M1808.3 838v12h-1.55v-9.95l-2.9 2.3-.85-1.1 4.05-3.25z" fill="#f0fbf4"/></svg>
</body></html>
